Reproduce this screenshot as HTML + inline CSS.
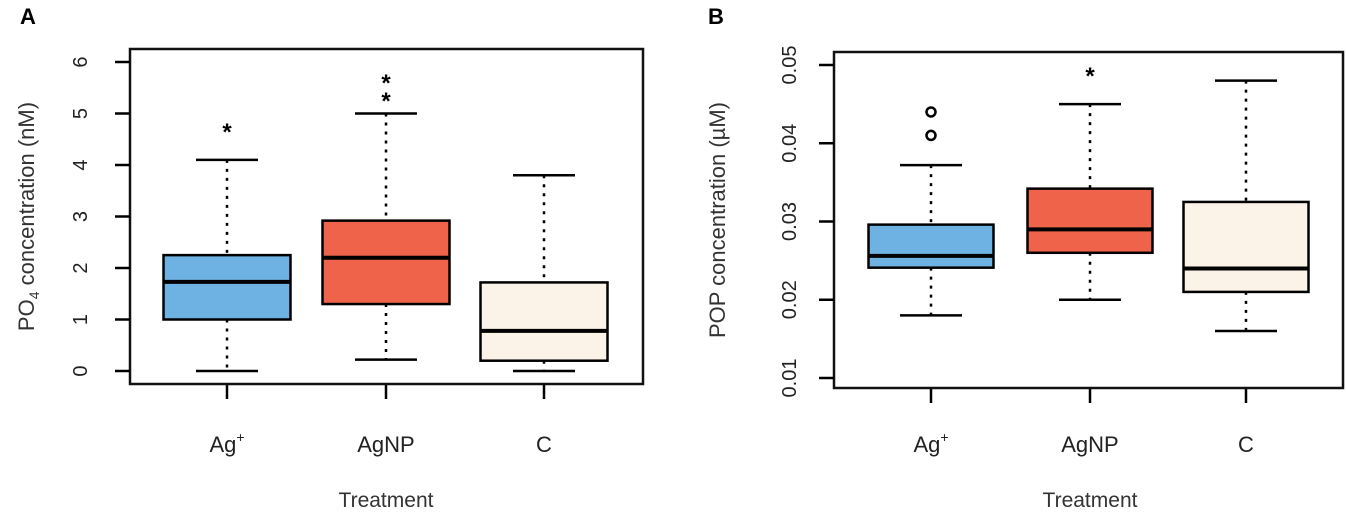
<!DOCTYPE html>
<html><head><meta charset="utf-8"><style>
html,body{margin:0;padding:0;background:#fff;width:1346px;height:522px;overflow:hidden}
svg{display:block;font-family:"Liberation Sans",sans-serif}
</style></head><body>
<svg id="s" width="1346" height="522" viewBox="0 0 1346 522"></svg>
<script>
const categories = ["Ag+", "AgNP", "C"];
const colors = ["#6db2e2", "#ee634a", "#fbf2e8"];
// Panel A: PO4 (nM)
const aQ1 = [1.0, 1.3, 0.2];
const aMed = [1.73, 2.2, 0.78];
const aQ3 = [2.25, 2.92, 1.72];
const aLo = [0.0, 0.22, 0.0];
const aHi = [4.1, 5.0, 3.8];
const aOut = [[4.7], [5.3, 5.65], []];
const aTicks = [0, 1, 2, 3, 4, 5, 6];
const aTickLabels = ["0", "1", "2", "3", "4", "5", "6"];
// Panel B: POP (µM)
const bQ1 = [0.0241, 0.026, 0.021];
const bMed = [0.0256, 0.029, 0.024];
const bQ3 = [0.0296, 0.0342, 0.0325];
const bLo = [0.018, 0.020, 0.016];
const bHi = [0.0372, 0.045, 0.048];
const bOut = [[0.041, 0.044], [0.049], []];
const bOutStyle = ["circle", "star", "none"];
const bTicks = [0.01, 0.02, 0.03, 0.04, 0.05];
const bTickLabels = ["0.01", "0.02", "0.03", "0.04", "0.05"];

const NS = "http://www.w3.org/2000/svg";
const svg = document.getElementById("s");
function mk(tag, attrs, parent, text) {
  const e = document.createElementNS(NS, tag);
  for (const k in attrs) e.setAttribute(k, attrs[k]);
  if (text !== undefined) e.textContent = text;
  (parent || svg).appendChild(e);
  return e;
}

function panel(cfg) {
  const g = mk("g", {});
  
  
  const y = v => cfg.y0 + (v - cfg.v0) * (cfg.y1 - cfg.y0) / (cfg.v1 - cfg.v0);
  const lab = mk("text", {x: cfg.labX, y: 24, "font-size": 22, "font-weight": "bold"}, g, cfg.letter);
  
  
  categories.forEach((c, i) => {
    const cx = cfg.xs[i], hw = cfg.bw / 2, cw = 31;
    const bg = mk("g", {}, g);
    
    
    const d = cfg.data;
    mk("line", {x1: cx, x2: cx, y1: y(d.hi[i]), y2: y(d.q3[i]), stroke: "#000", "stroke-width": 2.5, "stroke-dasharray": "3 6"}, bg);
    mk("line", {x1: cx, x2: cx, y1: y(d.q1[i]), y2: y(d.lo[i]), stroke: "#000", "stroke-width": 2.5, "stroke-dasharray": "3 6"}, bg);
    mk("line", {x1: cx - cw, x2: cx + cw, y1: y(d.hi[i]), y2: y(d.hi[i]), stroke: "#000", "stroke-width": 2.5}, bg);
    mk("line", {x1: cx - cw, x2: cx + cw, y1: y(d.lo[i]), y2: y(d.lo[i]), stroke: "#000", "stroke-width": 2.5}, bg);
    mk("rect", {x: cx - hw, y: y(d.q3[i]), width: cfg.bw, height: y(d.q1[i]) - y(d.q3[i]), fill: colors[i], stroke: "#000", "stroke-width": 2.5}, bg);
    mk("line", {x1: cx - hw, x2: cx + hw, y1: y(d.med[i]), y2: y(d.med[i]), stroke: "#000", "stroke-width": 4}, bg);
    d.out[i].forEach(v => {
      const st = d.style ? d.style[i] : "star";
      if (st === "circle") {
        const o = mk("circle", {cx: cx, cy: y(v), r: 4.5, fill: "none", stroke: "#000", "stroke-width": 2.5}, bg);
        
        
      } else {
        const o = mk("text", {x: cx, y: y(v) + 11, "text-anchor": "middle", "font-size": 24, "font-weight": "bold"}, bg, "*");
        
        
      }
    });
    mk("line", {x1: cx, x2: cx, y1: cfg.by1, y2: cfg.by1 + 15, stroke: "#000", "stroke-width": 2.5}, g);
    const xl = mk("text", {x: cx, y: 452, "text-anchor": "middle", "font-size": 22, fill: "#222"}, g);
    
    
    if (c === "Ag+") { xl.textContent = "Ag"; mk("tspan", {dy: -10, "font-size": 14}, xl, "+"); }
    else xl.textContent = c;
  });
  const fr = mk("rect", {x: cfg.bx0, y: cfg.by0, width: cfg.bx1 - cfg.bx0, height: cfg.by1 - cfg.by0, fill: "none", stroke: "#111", "stroke-width": 2.5}, g);
  
  
  const ya = mk("g", {}, g);
  
  
  cfg.ticks.forEach((t, k) => {
    mk("line", {x1: cfg.bx0 - 15, x2: cfg.bx0, y1: y(t), y2: y(t), stroke: "#000", "stroke-width": 2.5}, ya);
    mk("text", {x: 0, y: 0, transform: `translate(${cfg.tlX},${y(t)}) rotate(-90)`, "text-anchor": "middle", "font-size": 20, fill: "#222"}, ya, cfg.tickLabels[k]);
  });
  const yt = mk("text", {x: 0, y: 0, transform: `translate(${cfg.ytX},${(cfg.by0 + cfg.by1) / 2}) rotate(-90)`, "text-anchor": "middle", "font-size": 22, fill: "#333"}, g);
  
  
  cfg.ytitle(yt);
  const xt = mk("text", {x: cfg.xs[1], y: 507, "text-anchor": "middle", "font-size": 21, fill: "#333"}, g, "Treatment");
  
  
}

panel({name: "panel-a-po4", letter: "A", labX: 20, bx0: 130, bx1: 643, by0: 49, by1: 384,
  v0: 0, v1: 6, y0: 371, y1: 62, xs: [227, 386, 544], bw: 127,
  ticks: aTicks, tickLabels: aTickLabels, tlX: 87, ytX: 34,
  data: {q1: aQ1, med: aMed, q3: aQ3, lo: aLo, hi: aHi, out: aOut},
  ytitle: t => { t.textContent = "PO"; mk("tspan", {dy: 5, "font-size": 14}, t, "4"); mk("tspan", {dy: -5}, t, " concentration (nM)"); }
});
panel({name: "panel-b-pop", letter: "B", labX: 708, bx0: 834, bx1: 1343, by0: 52, by1: 388,
  v0: 0.01, v1: 0.05, y0: 378, y1: 65, xs: [931, 1090, 1246], bw: 125,
  ticks: bTicks, tickLabels: bTickLabels, tlX: 796, ytX: 725,
  data: {q1: bQ1, med: bMed, q3: bQ3, lo: bLo, hi: bHi, out: bOut, style: bOutStyle},
  ytitle: t => { t.textContent = "POP concentration (µM)"; }
});
</script>
</body></html>
